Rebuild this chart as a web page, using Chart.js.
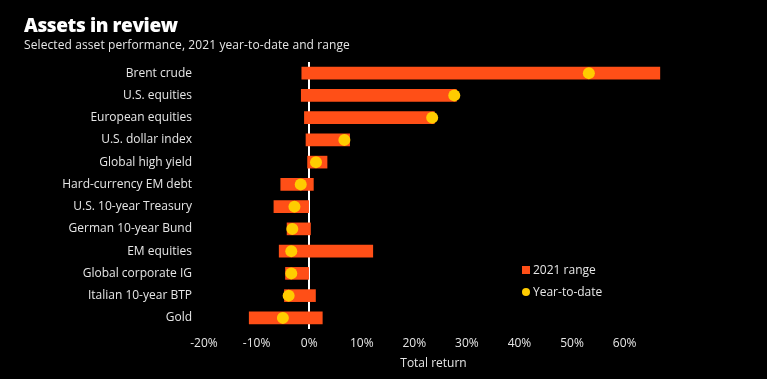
<!DOCTYPE html>
<html><head><meta charset="utf-8">
<script src="https://cdn.jsdelivr.net/npm/chart.js@4/dist/chart.umd.min.js"></script>
<style>
html,body{margin:0;padding:0;background:#000;width:767px;height:379px;overflow:hidden;font-family:"Open Sans",sans-serif;}
#wrap{position:absolute;left:0;top:0;width:767px;height:379px;}
#title{position:absolute;left:24px;top:12px;color:#fff;font-weight:800;font-size:19px;letter-spacing:-0.4px;}
#sub{position:absolute;left:24px;top:36px;color:#e6e6e6;font-size:12px;letter-spacing:0.1px;}
.leg{position:absolute;left:522px;color:#e6e6e6;font-size:12px;line-height:14px;}
.leg i{display:inline-block;vertical-align:middle;margin-right:3px;position:relative;top:-1px;}
</style></head>
<body>
<div id="wrap"><canvas id="c" width="767" height="379"></canvas></div>
<div id="title">Assets in review</div>
<div id="sub">Selected asset performance, 2021 year-to-date and range</div>
<div class="leg" style="top:263px"><i style="width:8px;height:8px;background:#ff4f17"></i>2021 range</div>
<div class="leg" style="top:285px"><i style="width:8px;height:8px;border-radius:50%;background:#ffcc00"></i>Year-to-date</div>
<script>
const categories = ["Brent crude","U.S. equities","European equities","U.S. dollar index","Global high yield","Hard-currency EM debt","U.S. 10-year Treasury","German 10-year Bund","EM equities","Global corporate IG","Italian 10-year BTP","Gold"];
const rangeLow  = [-1.4,-1.5,-0.9,-0.6,-0.3,-5.4,-6.7,-4.2,-5.7,-4.5,-4.7,-11.4];
const rangeHigh = [66.7,28.0,23.8,7.7,3.4,0.8,-0.1,0.25,12.1,-0.1,1.2,2.5];
const ytd       = [53.2,27.6,23.4,6.7,1.3,-1.6,-2.8,-3.2,-3.4,-3.4,-3.9,-5.0];
const xTicks    = [-20,-10,0,10,20,30,40,50,60];

const barColor = '#ff4f17', dotColor = '#ffcc00', txt = '#e6e6e6';
const font = {family:'"Open Sans", sans-serif', size:12};

new Chart(document.getElementById('c'), {
  type:'bar',
  data:{
    labels:categories,
    datasets:[
      {type:'line', label:'Year-to-date', indexAxis:'y', data:categories.map((c,i)=>({x:ytd[i], y:c})),
       showLine:false, pointRadius:6, pointHoverRadius:6, pointBackgroundColor:dotColor, pointBorderWidth:0, borderColor:dotColor, backgroundColor:dotColor, order:0},
      {label:'2021 range', data:categories.map((c,i)=>[rangeLow[i], rangeHigh[i]]),
       backgroundColor:barColor, borderWidth:0, barThickness:12, borderSkipped:false, order:1}
    ]
  },
  options:{
    indexAxis:'y', responsive:false, animation:false,
    layout:{padding:{top:62, right:104, left:0, bottom:0}},
    plugins:{legend:{display:false}, tooltip:{enabled:false}},
    scales:{
      x:{min:-20, max:67.3,
         afterBuildTicks:s=>{s.ticks = xTicks.map(v=>({value:v}));},
         afterFit:s=>{s.height=50;},
         grid:{drawTicks:false, drawOnChartArea:true, color:ctx=>ctx.tick && ctx.tick.value===0 ? '#ffffff' : 'rgba(0,0,0,0)', lineWidth:2},
         border:{display:false},
         ticks:{color:txt, font:font, padding:7, maxRotation:0, callback:v=>v+'%'},
         title:{display:true, text:'Total return', color:txt, font:font, padding:{top:4,bottom:8}}
      },
      y:{
         afterFit:s=>{s.width=204;},
         grid:{display:false, drawTicks:false},
         border:{display:false},
         ticks:{color:txt, font:font, padding:12}
      }
    }
  }
});
</script>
</body></html>
